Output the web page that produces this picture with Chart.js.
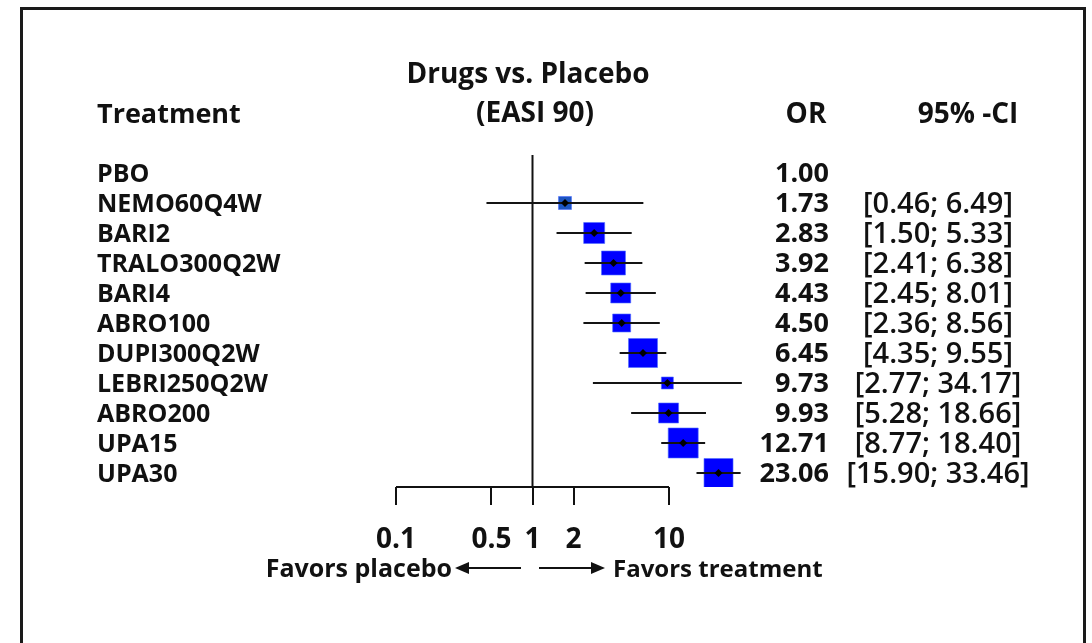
<!DOCTYPE html>
<html>
<head>
<meta charset="utf-8">
<script src="https://cdn.jsdelivr.net/npm/chart.js@4"></script>
<style>
  html, body { margin: 0; padding: 0; background: #fff; }
  #wrap { width: 1092px; height: 643px; }
</style>
</head>
<body>
<div id="wrap"><canvas id="forest" width="1092" height="643"></canvas></div>
<script>
// data
const treatments = ['PBO', 'NEMO60Q4W', 'BARI2', 'TRALO300Q2W', 'BARI4', 'ABRO100',
    'DUPI300Q2W', 'LEBRI250Q2W', 'ABRO200', 'UPA15', 'UPA30'];
const oddsRatio = [1.00, 1.73, 2.83, 3.92, 4.43, 4.50, 6.45, 9.73, 9.93, 12.71, 23.06];
const ciLower = [null, 0.46, 1.50, 2.41, 2.45, 2.36, 4.35, 2.77, 5.28, 8.77, 15.90];
const ciUpper = [null, 6.49, 5.33, 6.38, 8.01, 8.56, 9.55, 34.17, 18.66, 18.40, 33.46];
const xTicks = [0.1, 0.5, 1, 2, 10];

// box side (px) per row, as drawn in the figure (weights)
const boxSide = [0, 13, 21, 24, 20, 18, 29, 12, 20, 30, 29];

const FONT = "'Open Sans', 'Noto Sans', sans-serif";

const fmt = v => v.toFixed(2);

// CI whiskers, one line per row
const ciSets = [];
treatments.forEach((t, i) => {
    if (ciLower[i] == null) return;
    ciSets.push({
        type: 'line',
        data: [{ x: ciLower[i], y: i }, { x: ciUpper[i], y: i }],
        borderColor: '#141414',
        borderWidth: 2.2,
        pointRadius: 0,
        order: 1
    });
});

const boxPoints = [];
const boxRadius = [];
const boxColor = [];
treatments.forEach((t, i) => {
    if (ciLower[i] == null) return;
    boxPoints.push({ x: oddsRatio[i], y: i });
    boxRadius.push(boxSide[i] / Math.SQRT2);
    boxColor.push(i === 1 ? '#1d55c2' : '#0000ff');
});

const labelsPlugin = {
    id: 'forestText',
    afterDraw(chart) {
        const ctx = chart.ctx;
        const x = chart.scales.x;
        const y = chart.scales.y;
        const axisY = chart.chartArea.bottom;
        ctx.save();

        // frame
        ctx.strokeStyle = '#1a1a1a';
        ctx.lineWidth = 3;
        ctx.strokeRect(21.5, 8.5, 1063, 720);

        // x axis line and ticks
        ctx.strokeStyle = '#111';
        ctx.lineWidth = 2;
        ctx.beginPath();
        ctx.moveTo(x.getPixelForValue(xTicks[0]), axisY);
        ctx.lineTo(x.getPixelForValue(xTicks[xTicks.length - 1]), axisY);
        xTicks.forEach(v => {
            const px = Math.round(x.getPixelForValue(v));
            ctx.moveTo(px, axisY);
            ctx.lineTo(px, axisY + 18);
        });
        ctx.stroke();

        ctx.fillStyle = '#111';
        ctx.textBaseline = 'alphabetic';
        ctx.font = `700 28px ${FONT}`;
        ctx.textAlign = 'center';
        xTicks.forEach(v => {
            ctx.fillText(String(v), x.getPixelForValue(v), 548);
        });

        // favors arrows
        ctx.font = `700 25px ${FONT}`;
        ctx.textAlign = 'right';
        ctx.fillText('Favors placebo', 452, 577);
        ctx.font = `700 24px ${FONT}`;
        ctx.textAlign = 'left';
        ctx.fillText('Favors treatment', 613, 577);
        const arrow = (x0, x1, yy) => {
            const dir = Math.sign(x1 - x0);
            ctx.beginPath();
            ctx.moveTo(x0, yy);
            ctx.lineTo(x1 - dir * 10, yy);
            ctx.stroke();
            ctx.beginPath();
            ctx.moveTo(x1, yy);
            ctx.lineTo(x1 - dir * 14, yy - 6);
            ctx.lineTo(x1 - dir * 14, yy + 6);
            ctx.closePath();
            ctx.fill();
        };
        arrow(521, 455, 568);
        arrow(539, 605, 568);

        // headers
        ctx.font = `700 28px ${FONT}`;
        ctx.textAlign = 'center';
        ctx.fillText('Drugs vs. Placebo', 528, 83);
        ctx.fillText('(EASI 90)', 535, 122);
        ctx.fillText('OR', 806, 123);
        ctx.fillText('95% -CI', 968, 123);
        ctx.font = `700 27px ${FONT}`;
        ctx.textAlign = 'left';
        ctx.fillText('Treatment', 97, 123);

        // rows
        treatments.forEach((t, i) => {
            const py = y.getPixelForValue(i) + 9;
            ctx.font = `700 25px ${FONT}`;
            ctx.textAlign = 'left';
            ctx.fillText(t, 97, py);
            ctx.font = `700 27px ${FONT}`;
            ctx.textAlign = 'right';
            ctx.fillText(fmt(oddsRatio[i]), 829, py);
            if (ciLower[i] != null) {
                ctx.font = `600 29px ${FONT}`;
                ctx.textAlign = 'center';
                ctx.fillText('[' + fmt(ciLower[i]) + '; ' + fmt(ciUpper[i]) + ']', 938, py + 1);
            }
        });
        ctx.restore();
    }
};

new Chart(document.getElementById('forest'), {
    type: 'scatter',
    data: {
        datasets: [
            {
                // centre marks
                data: boxPoints,
                pointStyle: 'rectRot',
                pointRadius: 4,
                backgroundColor: '#000',
                borderWidth: 0,
                order: 0
            },
            ...ciSets,
            {
                // line of no effect
                type: 'line',
                data: [{ x: 1, y: -0.6 }, { x: 1, y: 10.4667 }],
                borderColor: '#111',
                borderWidth: 2,
                pointRadius: 0,
                order: 3
            },
            {
                // weighted boxes
                data: boxPoints,
                pointStyle: 'rect',
                pointRadius: boxRadius,
                backgroundColor: boxColor,
                borderColor: 'rgba(80,110,255,0.6)',
                borderWidth: 1,
                order: 2
            }
        ]
    },
    options: {
        responsive: false,
        animation: false,
        events: [],
        layout: { padding: { left: 396, right: 286.5, top: 155, bottom: 156 } },
        scales: {
            x: { type: 'logarithmic', min: 0.1, max: 100, display: false },
            y: { type: 'linear', min: -0.6, max: 10.4667, reverse: true, display: false }
        },
        plugins: {
            legend: { display: false },
            tooltip: { enabled: false }
        }
    },
    plugins: [labelsPlugin]
});
</script>
</body>
</html>
